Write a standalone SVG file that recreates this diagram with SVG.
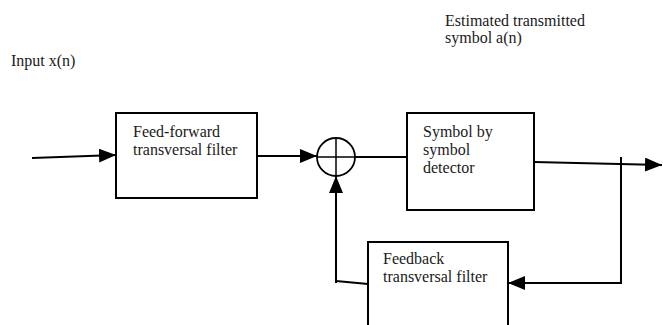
<svg xmlns="http://www.w3.org/2000/svg" width="663" height="325" viewBox="0 0 663 325">
<style>
  .box { fill: #fff; stroke: #000; stroke-width: 2; }
  .lbl { font-size: 16px; fill: #1a1a1a; }
  .wire { fill: none; stroke: #000; stroke-width: 2; }
  .arr { marker-end: url(#ah); }
</style>
<defs>
  <marker id="ah" markerUnits="userSpaceOnUse" markerWidth="17" markerHeight="14" viewBox="0 0 17 14" refX="17" refY="7" orient="auto">
    <path d="M0,0 L17,7 L0,14 Z" fill="#000"/>
  </marker>
</defs>
<rect width="663" height="325" fill="#fff"/>

<g font-family="Liberation Serif, DejaVu Serif, serif">
<g id="label-input">
  <text class="lbl" x="11" y="66">Input x(n)</text>
</g>
<g id="label-output">
  <text class="lbl" x="445" y="26">Estimated transmitted</text>
  <text class="lbl" x="445" y="43">symbol a(n)</text>
</g>
</g>

<g id="connectors">
  <line class="wire arr" x1="32" y1="158" x2="116" y2="155"/>
  <line class="wire arr" x1="257" y1="156" x2="317" y2="156"/>
  <line class="wire" x1="355" y1="157" x2="407" y2="157"/>
  <line class="wire arr" x1="534" y1="162" x2="662" y2="165"/>
  <line class="wire" x1="621" y1="157" x2="621" y2="284"/>
  <line class="wire arr" x1="621" y1="283" x2="508" y2="283"/>
  <line class="wire" x1="368" y1="284" x2="336" y2="281"/>
  <line class="wire arr" x1="336" y1="283" x2="336" y2="176"/>
</g>

<g font-family="Liberation Serif, DejaVu Serif, serif">
<g id="feedforward">
  <rect class="box" x="116" y="113" width="141" height="85"/>
  <text class="lbl" x="133" y="137">Feed-forward</text>
  <text class="lbl" x="133" y="155">transversal filter</text>
</g>

<g id="summer">
  <circle cx="336" cy="157" r="19" fill="#fff" stroke="#000" stroke-width="1.8"/>
  <line x1="317" y1="157" x2="355" y2="157" stroke="#000" stroke-width="1.5"/>
  <line x1="336" y1="138" x2="336" y2="176" stroke="#000" stroke-width="1.5"/>
</g>

<g id="detector">
  <rect class="box" x="407" y="113" width="127" height="97"/>
  <text class="lbl" x="423" y="137">Symbol by</text>
  <text class="lbl" x="423" y="155">symbol</text>
  <text class="lbl" x="423" y="173">detector</text>
</g>

<g id="feedback">
  <rect class="box" x="368" y="242" width="140" height="95"/>
  <text class="lbl" x="383" y="264">Feedback</text>
  <text class="lbl" x="383" y="282">transversal filter</text>
</g>
</g>
</svg>
